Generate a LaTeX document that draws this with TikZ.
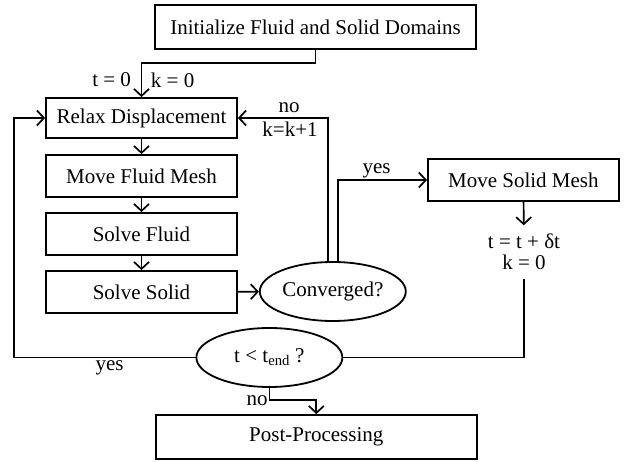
\documentclass[tikz,border=0pt]{standalone}
\usepackage{fontspec}
\setmainfont{Liberation Serif}
\usetikzlibrary{arrows.meta,shapes.geometric}

\tikzset{
  every node/.style={font=\fontsize{21}{22}\selectfont},
  flow/.style={line width=1.7pt},
  arr/.style={flow, -{Straight Barb[length=7pt,width=15pt,line width=1.7pt]}},
  procbox/.style={draw, line width=1.8pt, rectangle, inner sep=0pt},
  wide/.style={procbox, minimum width=321pt, minimum height=44pt},
  narrow/.style={procbox, minimum width=191pt, minimum height=42pt},
  decision/.style={draw, line width=1.8pt, ellipse, inner sep=0pt,
    minimum width=146pt, minimum height=59pt},
  lbl/.style={inner sep=0pt}
}

\begin{document}
\begin{tikzpicture}[x=1pt,y=-1pt]
  \useasboundingbox (0,0) rectangle (625,462);

  % process boxes
  \node[wide]   (init)   at (315.5,27)  {Initialize Fluid and Solid Domains};
  \node[narrow, minimum height=40pt] (relax) at (141.5,118) {Relax Displacement};
  \node[narrow] (mfluid) at (141.5,176) {Move Fluid Mesh};
  \node[narrow] (sfluid) at (141.5,234) {Solve Fluid};
  \node[narrow] (ssolid) at (141.5,292) {Solve Solid};
  \node[narrow] (msolid) at (523.4,180) {Move Solid Mesh};
  \node[wide]   (post)   at (316.3,437) {Post-Processing};

  % decisions
  \node[decision] (conv) at (332.8,291.5) {Converged?};
  \node[decision] (tend) at (269.4,357.5) {t < t\textsubscript{end} ?};

  % time step update
  \node[align=center, inner sep=0pt, minimum height=53pt] (upd) at (524,252)
    {t = t + δt\\[-1pt] k = 0};

  % left side of the loop
  \coordinate (lp) at (14.3,0);

  % initial step
  \draw[arr] (init.south) -- ++(0,13) -| (relax.north);
  \node[lbl] at (111.6,80) {t = 0};
  \node[lbl] at (172.6,80) {k = 0};

  % inner sequence
  \draw[arr] (relax) -- (mfluid);
  \draw[arr] (mfluid) -- (sfluid);
  \draw[arr] (sfluid) -- (ssolid);
  \draw[arr] (ssolid) -- (conv);

  % not converged: next sub-iteration
  \draw[arr] ([xshift=-5pt]conv.north) |- (relax.east);
  \node[lbl] at (289,108) {no};
  \node[lbl] at (290,129) {k=k+1};

  % converged: advance in time
  \draw[arr] ([xshift=5pt]conv.north) |- (msolid.west);
  \node[lbl] at (376.6,171) {yes};
  \draw[arr] (msolid) -- (upd);
  \draw[flow] (upd.south) |- (tend.east);

  % next time step
  \draw[arr] (tend.west) -- (tend.west -| lp) |- (relax.west);
  \node[lbl] at (109.6,368) {yes};

  % finished
  \draw[arr] (tend.south) -- ++(0,12) -| (post.north);
  \node[lbl] at (257,401) {no};
\end{tikzpicture}
\end{document}
